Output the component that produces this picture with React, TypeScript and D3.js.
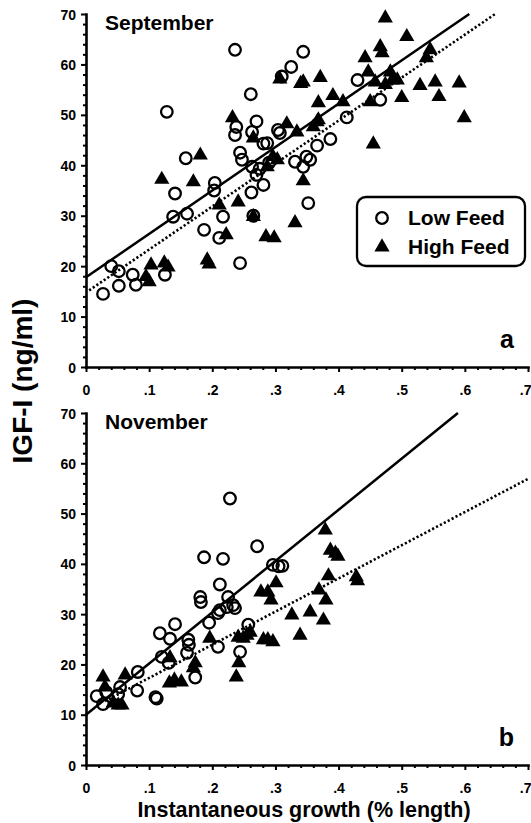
import React, { useEffect, useRef } from 'react';
import * as d3 from 'd3';

// September (panel a)
const septLow: [number, number][] = [
  [0.027, 14.5], [0.04, 20.0], [0.052, 19.0], [0.052, 16.1], [0.074, 18.3], [0.079, 16.3],
  [0.125, 18.3], [0.128, 50.6], [0.138, 29.8], [0.141, 34.4], [0.158, 41.4], [0.16, 30.4],
  [0.187, 27.2], [0.204, 36.5], [0.203, 35.0], [0.211, 25.6], [0.217, 29.8], [0.236, 62.9],
  [0.236, 46.0], [0.238, 47.6], [0.244, 42.5], [0.247, 41.1], [0.244, 20.6], [0.261, 54.1],
  [0.263, 46.6], [0.262, 34.6], [0.263, 39.7], [0.27, 48.7], [0.27, 38.1], [0.265, 30.0],
  [0.281, 44.3], [0.281, 36.1], [0.287, 44.4], [0.29, 40.5], [0.275, 39.3], [0.304, 47.0],
  [0.307, 46.4], [0.31, 57.6], [0.325, 59.5], [0.331, 40.7], [0.344, 62.5], [0.344, 39.7],
  [0.349, 41.7], [0.352, 32.5], [0.355, 41.1], [0.366, 43.9], [0.387, 45.2], [0.413, 49.5],
  [0.43, 56.9], [0.466, 53.0],
];
const septHigh: [number, number][] = [
  [0.095, 17.9], [0.1, 16.9], [0.103, 20.2], [0.124, 20.6], [0.13, 19.8], [0.12, 37.2],
  [0.17, 36.7], [0.181, 42.0], [0.192, 21.2], [0.195, 20.4], [0.211, 32.1], [0.222, 26.2],
  [0.232, 49.4], [0.241, 32.7], [0.265, 45.4], [0.265, 29.8], [0.285, 25.8], [0.298, 25.6],
  [0.287, 39.7], [0.296, 41.7], [0.303, 41.1], [0.307, 57.1], [0.318, 48.2], [0.331, 28.6],
  [0.334, 46.6], [0.34, 56.2], [0.344, 56.5], [0.344, 36.9], [0.36, 47.6], [0.366, 48.6],
  [0.368, 49.0], [0.368, 52.4], [0.371, 57.4], [0.391, 53.8], [0.407, 52.6], [0.442, 61.3],
  [0.447, 58.5], [0.45, 52.6], [0.455, 44.2], [0.458, 56.5], [0.466, 63.5], [0.469, 62.3],
  [0.474, 69.2], [0.474, 56.0], [0.482, 58.5], [0.485, 56.9], [0.493, 56.9], [0.5, 53.4],
  [0.508, 65.5], [0.529, 55.8], [0.539, 61.3], [0.545, 62.9], [0.553, 56.5], [0.559, 53.6],
  [0.591, 56.3], [0.599, 49.4],
];
const septLowFit: [number, number][] = [[0, 17.8], [0.607, 70]];
const septHighFit: [number, number][] = [[0.005, 15.2], [0.648, 70]];

// November (panel b)
const novLow: [number, number][] = [
  [0.017, 13.7], [0.027, 12.1], [0.032, 14.5], [0.051, 14.1], [0.054, 15.5], [0.081, 14.8],
  [0.082, 18.5], [0.11, 13.5], [0.112, 13.2], [0.117, 26.2], [0.12, 21.5], [0.131, 20.3],
  [0.133, 25.1], [0.141, 28.0], [0.16, 22.3], [0.162, 24.9], [0.163, 23.9], [0.173, 17.4],
  [0.181, 33.4], [0.182, 32.4], [0.187, 41.3], [0.195, 28.3], [0.209, 30.2], [0.209, 23.5],
  [0.212, 30.8], [0.212, 35.9], [0.217, 41.0], [0.223, 31.4], [0.225, 33.4], [0.228, 53.0],
  [0.233, 31.8], [0.236, 31.2], [0.244, 22.5], [0.257, 27.9], [0.271, 43.5], [0.296, 39.8],
  [0.305, 39.5], [0.311, 39.6],
];
const novHigh: [number, number][] = [
  [0.027, 17.5], [0.03, 15.5], [0.043, 12.3], [0.051, 11.9], [0.057, 11.9], [0.062, 17.9],
  [0.132, 16.3], [0.133, 21.3], [0.14, 16.9], [0.151, 16.5], [0.17, 19.3], [0.173, 20.3],
  [0.196, 25.2], [0.238, 17.5], [0.242, 20.3], [0.241, 25.4], [0.249, 25.2], [0.255, 25.8],
  [0.26, 26.4], [0.277, 34.4], [0.281, 24.9], [0.288, 34.4], [0.288, 24.9], [0.293, 32.8],
  [0.296, 24.5], [0.301, 36.2], [0.326, 29.8], [0.339, 25.8], [0.355, 30.4], [0.369, 34.8],
  [0.376, 28.8], [0.379, 46.7], [0.38, 32.8], [0.384, 37.6], [0.387, 42.7], [0.395, 42.1],
  [0.399, 41.5], [0.428, 37.4], [0.43, 36.6],
];
const novLowFit: [number, number][] = [[0, 10], [0.589, 70]];
const novHighFit: [number, number][] = [[0.03, 12.7], [0.7, 56.9]];

const xTicks = [0, 0.1, 0.2, 0.3, 0.4, 0.5, 0.6, 0.7];
const yTicks = [0, 10, 20, 30, 40, 50, 60, 70];
const legendLabels = ['Low Feed', 'High Feed'];

const FONT = "'Liberation Sans', Arial, Helvetica, sans-serif";

const App = () => {
  const ref = useRef<SVGSVGElement>(null);

  useEffect(() => {
    const svg = d3.select(ref.current);
    svg.selectAll('*').remove();

    const x = d3.scaleLinear().domain([0, 0.7]).range([86, 528]);
    const fmt = (d: number) => (d === 0 ? '0' : d.toFixed(1).replace(/^0/, ''));
    const minorX = d3.range(0, 0.7001, 0.02).filter((v) => Math.abs(v * 10 - Math.round(v * 10)) > 1e-6);
    const minorY = d3.range(0, 70.001, 2).filter((v) => v % 10 !== 0);
    const tri = d3.symbol().type(d3.symbolTriangle).size(100);

    const panels = [
      { top: 14, bottom: 367, title: 'September', letter: 'a', low: septLow, high: septHigh, lowFit: septLowFit, highFit: septHighFit, legend: true },
      { top: 413, bottom: 765, title: 'November', letter: 'b', low: novLow, high: novHigh, lowFit: novLowFit, highFit: novHighFit, legend: false },
    ];

    panels.forEach((p) => {
      const y = d3.scaleLinear().domain([0, 70]).range([p.bottom, p.top]);
      const g = svg.append('g');

      // minor ticks
      g.append('g')
        .attr('transform', `translate(0,${p.bottom})`)
        .call(d3.axisBottom(x).tickValues(minorX).tickSize(3).tickSizeOuter(0).tickFormat(() => ''))
        .call((a) => a.select('.domain').remove());
      g.append('g')
        .attr('transform', `translate(86,0)`)
        .call(d3.axisLeft(y).tickValues(minorY).tickSize(3).tickSizeOuter(0).tickFormat(() => ''))
        .call((a) => a.select('.domain').remove());

      // major axes
      const xa = g.append('g')
        .attr('transform', `translate(0,${p.bottom})`)
        .call(d3.axisBottom(x).tickValues(xTicks).tickSize(5).tickSizeOuter(0).tickFormat((d) => fmt(+d)));
      xa.selectAll('text').attr('y', 28).attr('dy', null);
      // keep the last label (.7) inside the picture
      xa.selectAll('text').filter((d) => +d === 0.7).attr('text-anchor', 'end').attr('x', 3);
      const ya = g.append('g')
        .attr('transform', `translate(86,0)`)
        .call(d3.axisLeft(y).tickValues(yTicks).tickSize(5).tickSizeOuter(0));
      ya.selectAll('text').attr('x', -10).attr('dy', '0.36em');

      g.selectAll('.tick line').attr('stroke', '#000').attr('stroke-width', 2);
      g.selectAll('.domain').attr('stroke', '#000').attr('stroke-width', 2.6).attr('stroke-linecap', 'square');
      g.selectAll('.tick text')
        .attr('font-family', FONT)
        .attr('font-size', 14)
        .attr('font-weight', 'bold')
        .attr('fill', '#000');

      // points
      g.append('g')
        .selectAll('circle')
        .data(p.low)
        .enter()
        .append('circle')
        .attr('cx', (d) => x(d[0]))
        .attr('cy', (d) => y(d[1]))
        .attr('r', 5.8)
        .attr('fill', 'none')
        .attr('stroke', '#000')
        .attr('stroke-width', 2.3);

      g.append('g')
        .selectAll('path')
        .data(p.high)
        .enter()
        .append('path')
        .attr('d', tri)
        .attr('transform', (d) => `translate(${x(d[0])},${y(d[1])})`)
        .attr('fill', '#000');

      // fit lines
      const line = d3.line<[number, number]>().x((d) => x(d[0])).y((d) => y(d[1]));
      g.append('path')
        .attr('d', line(p.lowFit))
        .attr('fill', 'none')
        .attr('stroke', '#000')
        .attr('stroke-width', 2.5);
      g.append('path')
        .attr('d', line(p.highFit))
        .attr('fill', 'none')
        .attr('stroke', '#000')
        .attr('stroke-width', 2.6)
        .attr('stroke-dasharray', '2.2 2.2');

      // panel labels
      g.append('text')
        .attr('x', 105)
        .attr('y', p.top + 16)
        .attr('font-family', FONT)
        .attr('font-size', 21)
        .attr('font-weight', 'bold')
        .text(p.title);
      g.append('text')
        .attr('x', 514)
        .attr('y', p.bottom - 19)
        .attr('text-anchor', 'end')
        .attr('font-family', FONT)
        .attr('font-size', 25)
        .attr('font-weight', 'bold')
        .text(p.letter);

      if (p.legend) {
        const lg = g.append('g');
        lg.append('rect')
          .attr('x', 357)
          .attr('y', 197)
          .attr('width', 168)
          .attr('height', 69)
          .attr('rx', 9)
          .attr('fill', '#fff')
          .attr('stroke', '#000')
          .attr('stroke-width', 2.3);
        lg.append('circle')
          .attr('cx', 382)
          .attr('cy', 218)
          .attr('r', 5.8)
          .attr('fill', 'none')
          .attr('stroke', '#000')
          .attr('stroke-width', 2.3);
        lg.append('path')
          .attr('d', tri)
          .attr('transform', 'translate(382,247)')
          .attr('fill', '#000');
        lg.selectAll('text.lab')
          .data(legendLabels)
          .enter()
          .append('text')
          .attr('class', 'lab')
          .attr('x', 408)
          .attr('y', (d, i) => 225 + i * 29)
          .attr('font-family', FONT)
          .attr('font-size', 21)
          .attr('font-weight', 'bold')
          .text((d) => d);
      }
    });

    // axis titles
    svg.append('text')
      .attr('transform', 'translate(32,381) rotate(-90)')
      .attr('text-anchor', 'middle')
      .attr('font-family', FONT)
      .attr('font-size', 28)
      .attr('font-weight', 'bold')
      .text('IGF-I (ng/ml)');
    svg.append('text')
      .attr('x', 304)
      .attr('y', 817)
      .attr('text-anchor', 'middle')
      .attr('font-family', FONT)
      .attr('font-size', 21.5)
      .attr('font-weight', 'bold')
      .text('Instantaneous growth (% length)');
  }, []);

  return (
    <svg
      ref={ref}
      width={531}
      height={823}
      style={{ position: 'absolute', left: 0, top: 0, background: '#fff' }}
    />
  );
};

export default App;
